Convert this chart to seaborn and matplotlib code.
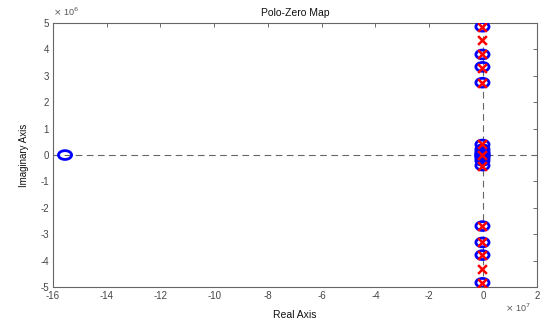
import numpy as np
import pandas as pd
import matplotlib
matplotlib.use("Agg")
import matplotlib.pyplot as plt
import seaborn as sns
from matplotlib.path import Path
from matplotlib.transforms import Affine2D

# Data (real in units of 1e7, imaginary in units of 1e6)
zero_real = [-15.55, -0.02, -0.02, -0.02, -0.02, -0.02, -0.02, -0.02, -0.02, -0.02, -0.02,
             -0.02, -0.02, -0.02, -0.02, -0.02, -0.02, -0.02, -0.02]
zero_imag = [0.0, 4.86, 3.81, 3.34, 2.74, 0.40, 0.22, 0.12, 0.05, -0.05, -0.12, -0.22, -0.40,
             -2.69, -3.31, -3.79, -4.84, 0.0, 0.0]
pole_real = [-0.02] * 13
pole_imag = [4.86, 4.36, 3.81, 3.30, 2.74, 0.40, 0.0, -0.40, -2.69, -3.31, -3.79, -4.32, -4.84]

xticks = [-16, -14, -12, -10, -8, -6, -4, -2, 0, 2]
yticks = [-5, -4, -3, -2, -1, 0, 1, 2, 3, 4, 5]

sns.set_theme(style="white")
plt.rcParams['font.family'] = ['Liberation Sans', 'DejaVu Sans']

fig = plt.figure(figsize=(5.4, 3.2), dpi=100)
ax = fig.add_axes([0.098, 0.103, 0.896, 0.825])

zeros = pd.DataFrame({"re": zero_real, "im": zero_imag})
poles = pd.DataFrame({"re": pole_real, "im": pole_imag})

ell = Path.unit_circle().transformed(Affine2D().scale(1.5, 1.0))

ax.axhline(0, color="#666666", lw=0.8, ls=(0, (6, 4)), zorder=1)
ax.axvline(0, color="#666666", lw=0.8, ls=(0, (6, 4)), zorder=1)

sns.scatterplot(data=zeros, x="re", y="im", ax=ax, marker=ell, s=90,
                facecolor="none", edgecolor="#0000ff", linewidth=2.0, zorder=3)
sns.scatterplot(data=poles, x="re", y="im", ax=ax, marker="x", s=40,
                color="#ff0000", linewidth=1.8, zorder=4)

ax.set_xlim(-16, 2)
ax.set_ylim(-5, 5)
ax.set_xticks(xticks)
ax.set_yticks(yticks)
ax.set_xticklabels([str(t) for t in xticks])
ax.set_yticklabels([str(t) for t in yticks])
ax.tick_params(direction="in", length=3, width=0.6, colors="#555555",
               labelsize=7, top=True, right=True, pad=3, labelcolor="#444444")
for s in ax.spines.values():
    s.set_color("#666666")
    s.set_linewidth(0.8)

ax.set_title("Polo-Zero Map", fontsize=7.5, pad=5, color="#111111")
ax.set_xlabel("Real Axis", fontsize=7.5, labelpad=6, color="#111111")
ax.set_ylabel("Imaginary Axis", fontsize=7, labelpad=8, color="#111111")

fig.text(0.098, 0.945, r"$\times$ 10$^{6}$", fontsize=6.5, color="#555555", ha="left", va="bottom")
fig.text(0.935, 0.02, r"$\times$ 10$^{7}$", fontsize=6.5, color="#555555", ha="left", va="bottom")

fig.savefig("out.png", dpi=100)
